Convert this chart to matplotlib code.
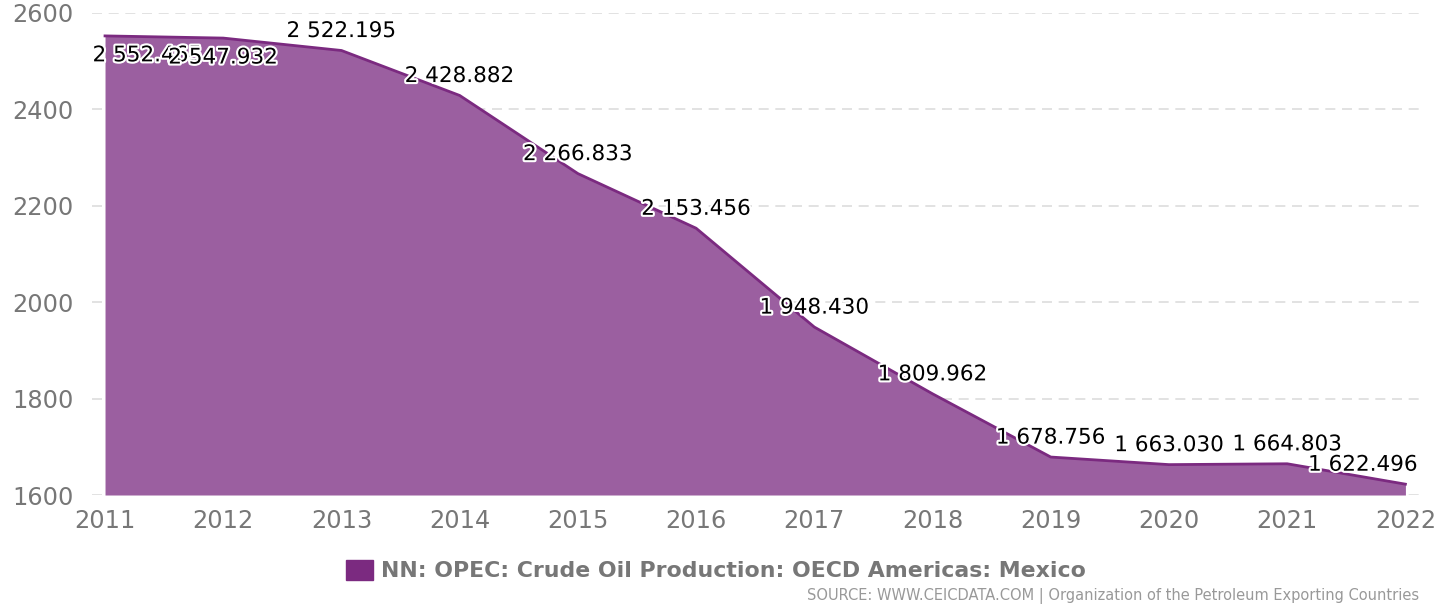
import matplotlib.pyplot as plt
import matplotlib.patheffects as pe
from matplotlib.patches import Patch

years = [2011, 2012, 2013, 2014, 2015, 2016, 2017, 2018, 2019, 2020, 2021, 2022]
values = [2552.465, 2547.932, 2522.195, 2428.882, 2266.833, 2153.456,
          1948.430, 1809.962, 1678.756, 1663.030, 1664.803, 1622.496]
yticks = [1600, 1800, 2000, 2200, 2400, 2600]
series_name = 'NN: OPEC: Crude Oil Production: OECD Americas: Mexico'

fill_col = '#9b5fa0'
line_col = '#7b2a80'
grey = '#777777'

fig = plt.figure(figsize=(14.56, 6.07), dpi=100)
ax = fig.add_axes([0.0632, 0.1845, 0.9118, 0.7941])

ax.fill_between(years, values, 1600, color=fill_col, linewidth=0, zorder=2)
ax.plot(years, values, color=line_col, linewidth=2, zorder=3)

ax.set_xlim(2010.89, 2022.12)
ax.set_ylim(1600, 2600)
ax.set_yticks(yticks)
ax.set_xticks(years)
ax.tick_params(length=0, labelsize=17.3, labelcolor=grey)
ax.tick_params(axis='y', pad=13)
ax.tick_params(axis='x', pad=10)
ax.grid(axis='y', color='#dddddd', linestyle=(0, (6, 4)), linewidth=1.2, zorder=1)
for s in ax.spines.values():
    s.set_visible(False)

def fmt(v):
    return f'{v:,.3f}'.replace(',', ' ')

halo = [pe.withStroke(linewidth=3, foreground='white')]
for i, (x, v) in enumerate(zip(years, values)):
    # first two sit under the line, the rest above
    dy = -14 if i < 2 else 14
    ha = 'center'
    dx = 0
    if i == 0:
        ha, dx = 'left', -9
    elif i == len(years) - 1:
        ha, dx = 'right', 9
    ax.annotate(fmt(v), (x, v), xytext=(dx, dy), textcoords='offset points',
                ha=ha, va='center', fontsize=15.5, color='black',
                path_effects=halo, zorder=5)

fig.legend(handles=[Patch(color=line_col)], labels=[series_name],
           loc='center', bbox_to_anchor=(0.492, 0.06), frameon=False,
           prop={'weight': 'bold', 'size': 15.8}, labelcolor=grey,
           handlelength=1.2, handleheight=1.0, handletextpad=0.4)
fig.text(0.975, 0.018, 'SOURCE: WWW.CEICDATA.COM | Organization of the Petroleum Exporting Countries',
         ha='right', va='center', fontsize=10.5, color='#999999')

fig.savefig('out.png', dpi=100)
